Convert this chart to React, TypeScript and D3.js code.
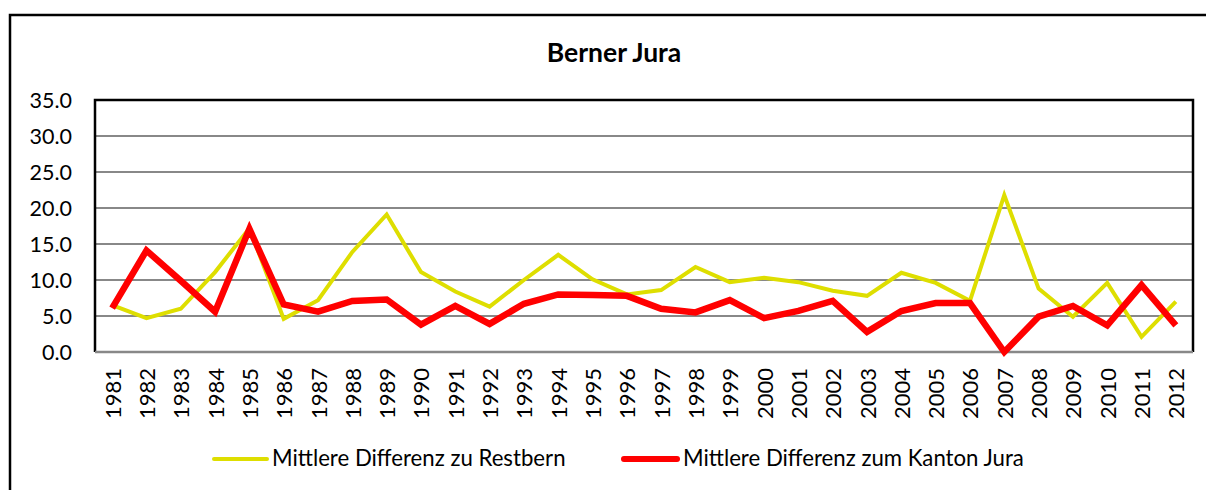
import React, { useMemo } from "react";
import * as d3 from "d3";

const years = [
  "1981", "1982", "1983", "1984", "1985", "1986", "1987", "1988", "1989", "1990",
  "1991", "1992", "1993", "1994", "1995", "1996", "1997", "1998", "1999", "2000",
  "2001", "2002", "2003", "2004", "2005", "2006", "2007", "2008", "2009", "2010",
  "2011", "2012",
];

// Mittlere Differenz zu Restbern
const restbern = [
  6.5, 4.7, 6.0, 11.1, 17.2, 4.6, 7.2, 13.9, 19.1, 11.1,
  8.4, 6.3, 10.0, 13.5, 10.1, 8.0, 8.6, 11.8, 9.7, 10.3,
  9.7, 8.5, 7.8, 11.0, 9.6, 7.1, 21.8, 8.8, 4.9, 9.6,
  2.1, 7.0,
];

// Mittlere Differenz zum Kanton Jura
const kantonJura = [
  6.1, 14.1, 9.9, 5.6, 17.1, 6.6, 5.6, 7.1, 7.3, 3.8,
  6.4, 3.9, 6.7, 8.0, 7.9, 7.8, 6.0, 5.5, 7.2, 4.7,
  5.7, 7.1, 2.8, 5.7, 6.8, 6.8, 0.0, 4.9, 6.4, 3.7,
  9.3, 3.7,
];

const yTicks = [0, 5, 10, 15, 20, 25, 30, 35];

const seriesNames = ["Mittlere Differenz zu Restbern", "Mittlere Differenz zum Kanton Jura"];

const width = 1206;
const height = 490;
const plot = { left: 95, right: 1193, top: 100, bottom: 352 };
const font = "Lato, 'Open Sans', sans-serif";
const yellow = "#dede00";
const red = "#ff0000";

export default function App() {
  const xScale = useMemo(
    () => d3.scaleBand().domain(years).range([plot.left, plot.right]),
    []
  );
  const yScale = useMemo(
    () => d3.scaleLinear().domain([0, 35]).range([plot.bottom, plot.top]),
    []
  );

  const cx = (y: string) => (xScale(y) ?? 0) + xScale.bandwidth() / 2;

  const line = d3
    .line<number>()
    .x((_, i) => cx(years[i]))
    .y((d) => yScale(d));

  return (
    <svg
      width={width}
      height={height}
      style={{ position: "absolute", left: 0, top: 0, background: "white" }}
      fontFamily={font}
    >
      <rect x={0} y={0} width={width} height={height} fill="white" />
      {/* outer chart border, runs off the picture */}
      <rect x={10} y={15} width={1220} height={500} fill="none" stroke="#000" strokeWidth={2.5} />

      <text
        x={614}
        y={62}
        textAnchor="middle"
        fontSize={26.5}
        fontWeight="bold"
        fill="#000"
      >
        Berner Jura
      </text>

      {/* grid */}
      {yTicks.map((t) =>
        t === 0 || t === 35 ? null : (
          <line
            key={t}
            x1={plot.left}
            x2={plot.right}
            y1={yScale(t)}
            y2={yScale(t)}
            stroke="#888"
            strokeWidth={2}
          />
        )
      )}

      {/* plot frame */}
      <path
        d={`M${plot.left},${plot.bottom}V${plot.top}H${plot.right}V${plot.bottom}`}
        fill="none"
        stroke="#000"
        strokeWidth={2.5}
      />
      <line
        x1={plot.left}
        x2={plot.right}
        y1={plot.bottom}
        y2={plot.bottom}
        stroke="#888"
        strokeWidth={2.5}
      />

      {yTicks.map((t) => (
        <text
          key={t}
          x={72}
          y={yScale(t)}
          textAnchor="end"
          dominantBaseline="central"
          fontSize={21.5}
          fill="#000"
        >
          {t.toFixed(1)}
        </text>
      ))}

      {years.map((y) => (
        <text
          key={y}
          transform={`translate(${cx(y)},${368}) rotate(-90)`}
          textAnchor="end"
          dominantBaseline="central"
          fontSize={22}
          fill="#000"
        >
          {y}
        </text>
      ))}

      <path d={line(restbern) ?? ""} fill="none" stroke={yellow} strokeWidth={4} strokeLinejoin="miter" />
      <path d={line(kantonJura) ?? ""} fill="none" stroke={red} strokeWidth={6.5} strokeLinejoin="miter" />

      {/* legend */}
      <line x1={214} x2={267} y1={459} y2={459} stroke={yellow} strokeWidth={4} strokeLinecap="round" />
      <text x={272} y={466} fontSize={22.2} fill="#000">
        {seriesNames[0]}
      </text>
      <line x1={624} x2={677} y1={459} y2={459} stroke={red} strokeWidth={6} strokeLinecap="round" />
      <text x={683} y={466} fontSize={22.2} fill="#000">
        {seriesNames[1]}
      </text>
    </svg>
  );
}
